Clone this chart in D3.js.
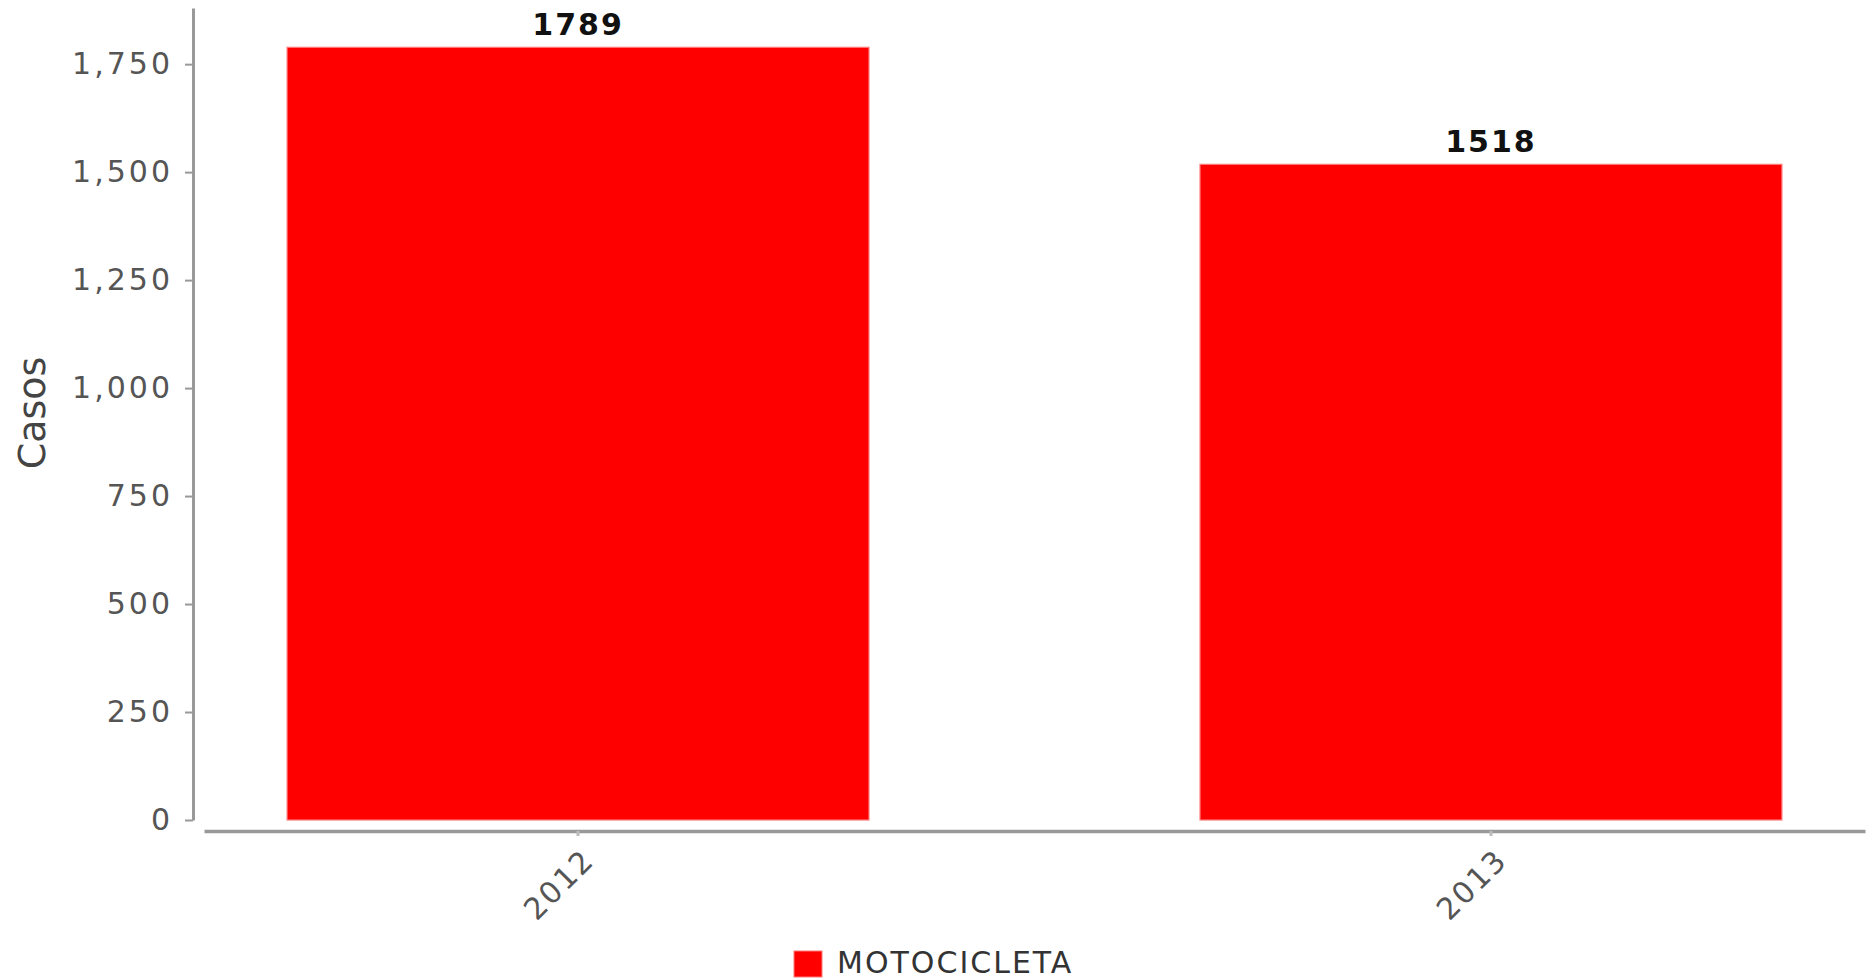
<!DOCTYPE html>
<html>
<head>
<meta charset="utf-8">
<script src="https://cdn.jsdelivr.net/npm/d3@7"></script>
<style>
html,body{margin:0;padding:0;background:#fff;}
svg{display:block;}
</style>
</head>
<body>
<svg id="chart" width="1876" height="980"></svg>
<script>
const categories = ["2012", "2013"];
const values = [1789, 1518];
const yTicks = [0, 250, 500, 750, 1000, 1250, 1500, 1750];
const seriesName = "MOTOCICLETA";
const yTitle = "Casos";

const svg = d3.select("#chart");
const font = "'DejaVu Sans', Verdana, sans-serif";

const x = d3.scaleBand().domain(categories).range([204, 1865]).paddingInner(0.3626).paddingOuter(0.091);
const y = d3.scaleLinear().domain([0, 1880]).range([820, 8]);

// bars
svg.append("g").selectAll("rect").data(values).join("rect")
  .attr("x", (d, i) => x(categories[i]))
  .attr("width", x.bandwidth())
  .attr("y", d => y(d))
  .attr("height", d => y(0) - y(d))
  .attr("fill", "#ff0000")
  .attr("stroke", "#ff7a7a")
  .attr("stroke-width", 1.2);

// value labels
svg.append("g").selectAll("text").data(values).join("text")
  .attr("x", (d, i) => x(categories[i]) + x.bandwidth() / 2)
  .attr("y", d => y(d) - 12)
  .attr("text-anchor", "middle")
  .attr("font-family", font)
  .attr("font-weight", "bold")
  .attr("font-size", 30)
  .attr("letter-spacing", 2)
  .attr("fill", "#111")
  .text(d => d);

// y axis
const yAxis = d3.axisLeft(y).tickValues(yTicks).tickSize(8).tickSizeOuter(0).tickPadding(12)
  .tickFormat(d3.format(","));
const gy = svg.append("g").attr("transform", "translate(193,0)").call(yAxis);
gy.select(".domain").attr("stroke", "#999").attr("stroke-width", 3);
gy.selectAll(".tick line").attr("stroke", "#999").attr("stroke-width", 2);
gy.selectAll(".tick text")
  .attr("font-family", font).attr("font-size", 30).attr("letter-spacing", 3)
  .attr("fill", "#555");

// x axis
const xAxis = d3.axisBottom(x).tickSize(5).tickSizeOuter(0).tickPadding(0);
const gx = svg.append("g").attr("transform", "translate(0,831)").call(xAxis);
gx.select(".domain").attr("stroke", "#999").attr("stroke-width", 3.5);
gx.selectAll(".tick line").attr("stroke", "#bbb").attr("stroke-width", 3);
gx.selectAll(".tick text")
  .attr("font-family", font).attr("font-size", 30).attr("letter-spacing", 2)
  .attr("fill", "#555")
  .attr("text-anchor", "end")
  .attr("dy", 0)
  .attr("y", 0)
  .attr("transform", "translate(18,31) rotate(-45)");

// y title
svg.append("text")
  .attr("transform", "translate(45,413) rotate(-90)")
  .attr("text-anchor", "middle")
  .attr("font-family", font)
  .attr("font-size", 38)
  .attr("fill", "#444")
  .text(yTitle);

// legend
const lg = svg.append("g");
lg.append("rect").attr("x", 794).attr("y", 951).attr("width", 28).attr("height", 26)
  .attr("fill", "#ff0000").attr("stroke", "#ff7a7a").attr("stroke-width", 1);
lg.append("text").attr("x", 837).attr("y", 973)
  .attr("font-family", font).attr("font-size", 30).attr("letter-spacing", 2)
  .attr("fill", "#333").text(seriesName);
</script>
</body>
</html>
